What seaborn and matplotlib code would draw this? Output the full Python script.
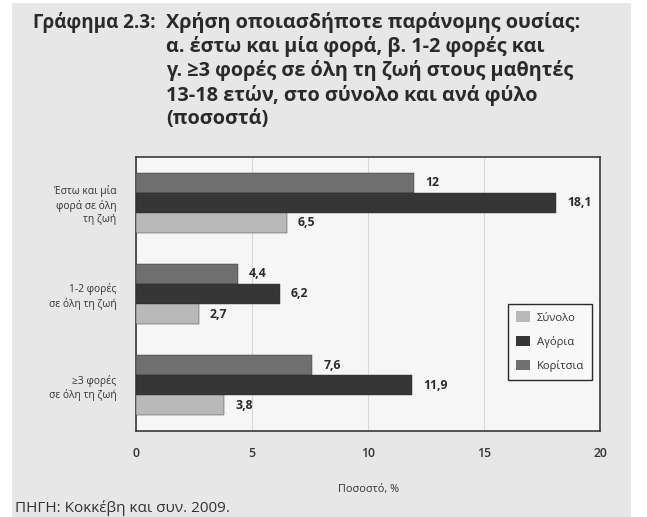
import matplotlib
matplotlib.use("Agg")
import matplotlib.pyplot as plt
from matplotlib.patches import Rectangle, Patch
from matplotlib.ticker import FixedLocator
import seaborn as sns
import pandas as pd

# Data
categories = ["Έστω και μία\nφορά σε όλη\nτη ζωή", "1-2 φορές\nσε όλη τη ζωή", "≥3 φορές\nσε όλη τη ζωή"]
groups = ["Κορίτσια", "Αγόρια", "Σύνολο"]
girls = [12.0, 4.4, 7.6]
boys = [18.1, 6.2, 11.9]
total = [6.5, 2.7, 3.8]
xticks = [0, 5, 10, 15, 20]

title_lead = "Γράφημα 2.3:"
title_body = ("Χρήση οποιασδήποτε παράνομης ουσίας:\n"
              "α. έστω και μία φορά, β. 1-2 φορές και\n"
              "γ. ≥3 φορές σε όλη τη ζωή στους μαθητές\n"
              "13-18 ετών, στο σύνολο και ανά φύλο\n"
              "(ποσοστά)")
x_label = "Ποσοστό, %"
source = "ΠΗΓΗ: Κοκκέβη και συν. 2009."

rows = []
for g, vals in zip(groups, [girls, boys, total]):
    for c, v in zip(categories, vals):
        rows.append({"cat": c, "group": g, "value": v})
df = pd.DataFrame(rows)

sns.set_theme(style="white")
plt.rcParams["font.family"] = ["Open Sans", "DejaVu Sans"]

palette = {"Κορίτσια": "#6f6f6f", "Αγόρια": "#363636", "Σύνολο": "#b9b9b9"}
text_col = "#333333"

W, H = 647, 517
fig = plt.figure(figsize=(W / 100, H / 100), dpi=100, facecolor="white")
# grey paper panel
fig.patches.append(Rectangle((12 / W, 0), (631 - 12) / W, (517 - 3) / H,
                             transform=fig.transFigure, facecolor="#e7e7e7",
                             edgecolor="none", zorder=-10))

ax = fig.add_axes([136 / W, 1 - 431 / H, (600 - 136) / W, (431 - 157) / H])
ax.set_facecolor("#f6f6f6")

sns.barplot(data=df, y="cat", x="value", hue="group", hue_order=groups,
            order=categories, palette=palette, orient="h", width=0.66,
            edgecolor="#2a2a2a", linewidth=0.3, legend=False, ax=ax, zorder=3)

ax.set_xlim(0, 20)
ax.set_ylim(2.5, -0.5)
ax.set_xticks(xticks)
ax.set_xticklabels([str(t) for t in xticks], fontsize=8.8, color=text_col, fontweight="semibold")
ax.tick_params(axis="x", direction="inout", length=9, width=1.0, color="#444444", pad=7)
ax.grid(axis="x", color="#d8d8d8", linewidth=0.8, zorder=0)

# category labels centred, tick marks at category boundaries
ax.tick_params(axis="y", which="major", length=0, pad=14)
ax.set_yticklabels(categories, fontsize=7.4, color=text_col, ha="right", linespacing=1.25)
ax.yaxis.set_minor_locator(FixedLocator([-0.5, 0.5, 1.5, 2.5]))
ax.tick_params(axis="y", which="minor", direction="out", length=5, width=1.0, color="#444444")

ax.set_xlabel(x_label, fontsize=7.8, color=text_col, labelpad=17)
ax.set_ylabel("")

for s in ax.spines.values():
    s.set_color("#3a3a3a")
    s.set_linewidth(1.2)

# value labels
for cont in ax.containers:
    labels = []
    for bar in cont:
        v = bar.get_width()
        labels.append(("%g" % v).replace(".", ","))
    ax.bar_label(cont, labels=labels, padding=8, fontsize=8.8, fontweight="bold", color="#2a2a2a")

handles = [Patch(facecolor=palette[g], edgecolor="none") for g in groups[::-1]]
leg = ax.legend(handles, groups[::-1], loc="upper right", bbox_to_anchor=(0.983, 0.465),
                fontsize=8.1, frameon=True, fancybox=False, edgecolor="#2a2a2a",
                facecolor="#f8f8f8", framealpha=1, handlelength=1.25, handleheight=1.1,
                labelspacing=1.05, borderpad=0.7, handletextpad=0.6, borderaxespad=0)
leg.get_frame().set_linewidth(1.0)
for t in leg.get_texts():
    t.set_color(text_col)

fig.text(33 / W, 1 - 12 / H, title_lead, fontsize=13.5, fontweight="bold",
         color="#2a2a2a", va="top", ha="left")
fig.text(166 / W, 1 - 12 / H, title_body, fontsize=14.3, fontweight="bold",
         color="#2a2a2a", va="top", ha="left", linespacing=1.2)
fig.text(15 / W, 1 - 508 / H, source, fontsize=11, color=text_col, va="center", ha="left")

fig.savefig("out.png", dpi=100, facecolor=fig.get_facecolor())
